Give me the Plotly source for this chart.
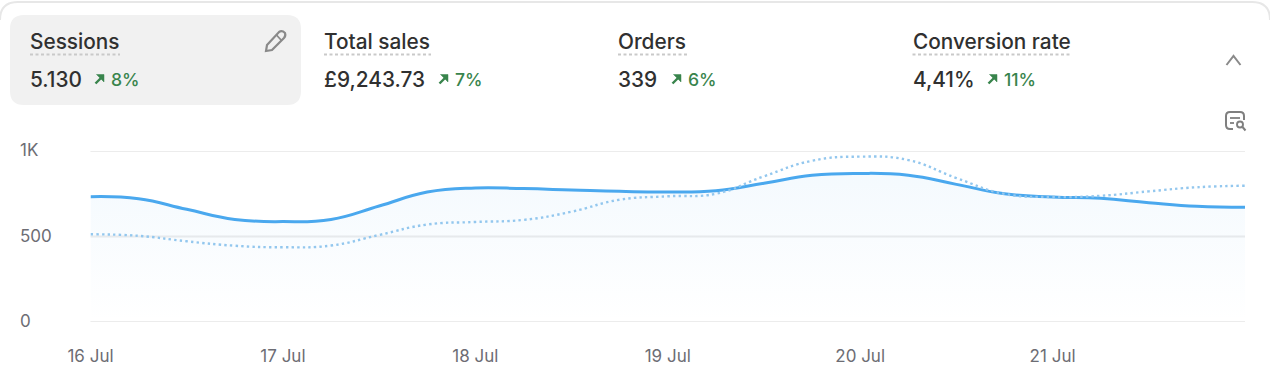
import pandas as pd
import plotly.graph_objects as go

# Curve values every quarter of a day, 16 Jul 00:00 to 22 Jul 00:00
sample_times = pd.date_range("2024-07-16", "2024-07-22", freq="6h")
current_sessions = [733, 721, 659, 600, 587, 600, 678, 760, 784, 780, 772, 764, 760,
                    768, 811, 858, 869, 858, 805, 750, 731, 723, 698, 677, 671]
previous_sessions = [513, 504, 472, 446, 437, 447, 509, 570, 585, 597, 645, 715, 735,
                     750, 852, 943, 967, 947, 842, 749, 731, 738, 764, 788, 797]
tick_days = ["2024-07-16", "2024-07-17", "2024-07-18", "2024-07-19", "2024-07-20", "2024-07-21"]
tick_labels = ["16 Jul", "17 Jul", "18 Jul", "19 Jul", "20 Jul", "21 Jul"]
y_ticks = [0, 500, 1000]
y_tick_labels = ["0", "500", "1K"]

metric_names = ["Sessions", "Total sales", "Orders", "Conversion rate"]
metric_values = ["5.130", "£9,243.73", "339", "4,41%"]
metric_changes = ["8%", "7%", "6%", "11%"]

W, H = 1270, 368
FONT = "Inter"
DARK = "#303030"
GREEN = "#38844c"
GREY = "#6d6d74"


def px(x):
    return x / W


def py(y):
    return 1 - y / H


def path(cmds):
    out = []
    for c in cmds:
        if isinstance(c, str):
            out.append(c)
        else:
            out.append(f"{px(c[0]):.5f},{py(c[1]):.5f}")
    return " ".join(out)


def line(x0, y0, x1, y1, color, width, dash="solid"):
    return dict(type="line", xref="paper", yref="paper", x0=px(x0), y0=py(y0), x1=px(x1), y1=py(y1),
                line=dict(color=color, width=width, dash=dash), layer="above")


def draw(cmds, color=None, width=0, fill=None, layer="above"):
    d = dict(type="path", xref="paper", yref="paper", path=path(cmds), layer=layer,
             line=dict(color=color or "rgba(0,0,0,0)", width=width))
    if fill:
        d["fillcolor"] = fill
    return d


def round_rect(x0, y0, x1, y1, r):
    return ["M", (x0 + r, y0), "L", (x1 - r, y0), "Q", (x1, y0), (x1, y0 + r), "L", (x1, y1 - r),
            "Q", (x1, y1), (x1 - r, y1), "L", (x0 + r, y1), "Q", (x0, y1), (x0, y1 - r), "L", (x0, y0 + r),
            "Q", (x0, y0), (x0 + r, y0), "Z"]


fig = go.Figure()
fig.add_trace(go.Scatter(
    x=sample_times, y=current_sessions, mode="lines",
    line=dict(color="#4aa8ee", width=3, shape="spline", smoothing=1.3),
    fill="tozeroy",
    fillgradient=dict(type="vertical", start=0, stop=870,
                      colorscale=[[0, "rgba(74,168,238,0)"], [1, "rgba(74,168,238,0.06)"]]),
    hoverinfo="skip", showlegend=False))
fig.add_trace(go.Scatter(
    x=sample_times, y=previous_sessions, mode="lines",
    line=dict(color="#93c7ee", width=2.4, shape="spline", smoothing=1.3, dash="2.4px,3.2px"),
    hoverinfo="skip", showlegend=False))

shapes = [
    draw(["M", (0, 20), "Q", (0, 2), (18, 2), "L", (1252, 2), "Q", (1270, 2), (1270, 20)], "#e7e7e7", 2, layer="below"),
    draw(round_rect(10, 15, 301, 105, 14), fill="#f1f1f1", layer="below"),
]

annotations = []


def text(x, y, s, size, color, weight=400, anchor="left"):
    annotations.append(dict(xref="paper", yref="paper", x=px(x), y=py(y), text=s, showarrow=False,
                            xanchor=anchor, yanchor="middle", xshift=0,
                            font=dict(family=FONT, size=size, color=color, weight=weight)))


name_x = [30, 324, 618, 912.5]
under_end = [120, 431, 687, 1072]
value_arrow_x = [94, 438, 671, 987]
pct_x = [110, 454, 687, 1003]
for i in range(4):
    text(name_x[i] - 2, 41, metric_names[i], 20.8, DARK, 500)
    shapes.append(line(name_x[i], 54.5, under_end[i], 54.5, "#c9c9c9", 2.2, "3px,2.5px"))
    text(name_x[i] - 2, 79, metric_values[i], 20.8, DARK, 500)
    ax = value_arrow_x[i]
    shapes.append(draw(["M", (ax + 1.5, 83.5), "L", (ax + 7, 78)], GREEN, 2.4))
    shapes.append(draw(["M", (ax + 2.5, 74.5), "L", (ax + 10, 74.5), "L", (ax + 10, 82), "Z"], GREEN, 0.5, fill=GREEN))
    text(pct_x[i] - 1.5, 80, metric_changes[i], 17.6, GREEN, 500)

# pencil
shapes.append(draw(["M", (267, 45), "L", (279, 32), "Q", (282, 30), (285, 33), "Q", (286, 36), (284, 38),
                    "L", (272, 50), "L", (266, 51), "Z"], "#8a8a8a", 2.2))
shapes.append(line(276.5, 35, 281.5, 40.5, "#8a8a8a", 1.8))
# chevron
shapes.append(draw(["M", (1226.5, 65), "L", (1233.5, 56), "L", (1240.5, 65)], "#8a8a8a", 2))
# report search icon
shapes.append(draw(["M", (1233, 129), "L", (1230, 129), "Q", (1226, 129), (1226, 125), "L", (1226, 116),
                    "Q", (1226, 112), (1230, 112), "L", (1240, 112), "Q", (1244, 112), (1244, 116), "L", (1244, 120)],
                   "#7f7f7f", 2))
shapes.append(line(1230, 118, 1240, 118, "#7f7f7f", 1.8))
shapes.append(line(1230, 123, 1234, 123, "#7f7f7f", 1.8))
shapes.append(dict(type="circle", xref="paper", yref="paper", x0=px(1237), x1=px(1243), y0=py(121.5), y1=py(127.5),
                   line=dict(color="#7f7f7f", width=1.9), layer="above"))
shapes.append(line(1242.5, 127, 1245.5, 130.5, "#7f7f7f", 2))

for v, lab in zip(y_ticks, y_tick_labels):
    shapes.append(dict(type="line", xref="x domain", yref="y", x0=0, x1=1, y0=v, y1=v, layer="below",
                       line=dict(color="#ececec", width=1.8)))
    annotations.append(dict(xref="paper", yref="y", x=px(18), y=v, yshift=1, text=lab, showarrow=False,
                            xanchor="left", yanchor="middle",
                            font=dict(family=FONT, size=17, color=GREY)))

fig.update_layout(
    width=W, height=H, autosize=False,
    margin=dict(l=0, r=0, t=0, b=0), paper_bgcolor="white", plot_bgcolor="rgba(0,0,0,0)",
    shapes=shapes, annotations=annotations, showlegend=False,
    font=dict(family=FONT),
    xaxis=dict(domain=[px(90.5), px(1245)], type="date",
               range=["2024-07-16", "2024-07-22"], tickmode="array", tickvals=tick_days, ticktext=tick_labels,
               showgrid=False, zeroline=False, showline=False, ticks="", ticklabelstandoff=22,
               tickfont=dict(family=FONT, size=17, color=GREY), automargin=False),
    yaxis=dict(domain=[py(322), py(151)], range=[0, 1000], tickmode="array", tickvals=y_ticks,
               showticklabels=False, showgrid=False,
               zeroline=False, showline=False, ticks="", automargin=False),
)
fig.write_html("out.html", config=dict(displayModeBar=False),
               post_script="document.body.style.margin='0';document.body.style.overflow='hidden';")
